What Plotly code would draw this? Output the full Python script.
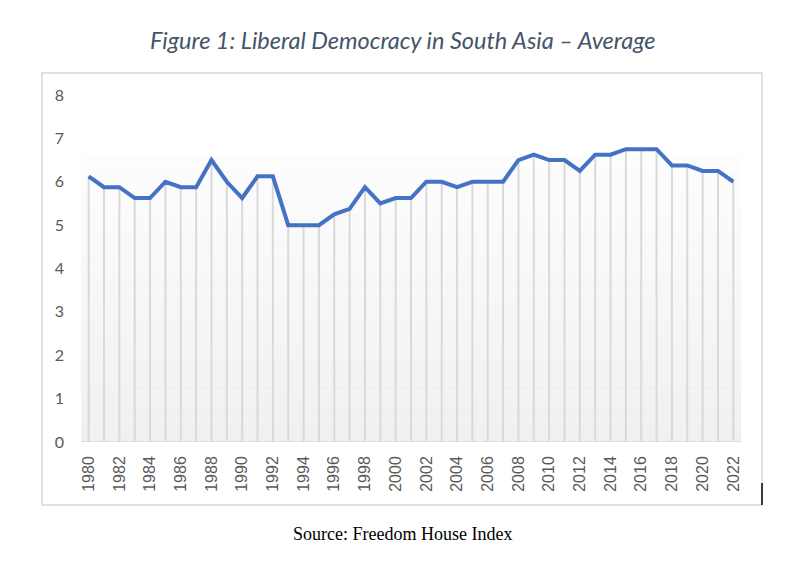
import plotly.graph_objects as go

years = list(range(1980, 2023))
scores = [6.125, 5.875, 5.875, 5.625, 5.625, 6.0, 5.875, 5.875, 6.5, 6.0,
          5.625, 6.125, 6.125, 5.0, 5.0, 5.0, 5.25, 5.375, 5.875, 5.5,
          5.625, 5.625, 6.0, 6.0, 5.875, 6.0, 6.0, 6.0, 6.5, 6.625,
          6.5, 6.5, 6.25, 6.625, 6.625, 6.75, 6.75, 6.75, 6.375, 6.375,
          6.25, 6.25, 6.0]
tick_years = list(range(1980, 2023, 2))
y_ticks = list(range(0, 9))

W, H = 808, 561
L, R, T, B = 81, 741, 95, 442  # plot area pixel bounds

def px(xp):
    return (xp - L) / (R - L)

def py(yp):
    return (B - yp) / (B - T)

fig = go.Figure()

# drop lines
fig.add_trace(go.Scatter(
    x=years, y=scores, mode="markers", marker=dict(size=0.1, color="rgba(0,0,0,0)"),
    error_y=dict(type="data", symmetric=False, array=[0] * len(scores), arrayminus=scores,
                 color="#d9d9d9", thickness=2, width=0),
    hoverinfo="skip", showlegend=False))

fig.add_trace(go.Scatter(
    x=years, y=scores, mode="lines", line=dict(color="#4472c4", width=4),
    showlegend=False))

shapes = []
# gradient background band
n = 40
top_val = 6.62
c_top = (253, 253, 253)
c_bot = (240, 240, 240)
for i in range(n):
    f = i / (n - 1)
    col = tuple(round(c_bot[k] + (c_top[k] - c_bot[k]) * f) for k in range(3))
    shapes.append(dict(type="rect", xref="x", yref="y", x0=1979.5, x1=2022.5,
                       y0=top_val * i / n, y1=top_val * (i + 1) / n,
                       fillcolor="rgb(%d,%d,%d)" % col, line=dict(width=0), layer="below"))
# baseline
shapes.append(dict(type="line", xref="x", yref="y", x0=1979.5, x1=2022.5, y0=0, y1=0,
                   line=dict(color="#d9d9d9", width=1.5), layer="below"))
# chart border
shapes.append(dict(type="rect", xref="paper", yref="paper",
                   x0=px(42), x1=px(762), y0=py(505), y1=py(73),
                   line=dict(color="#d9d9d9", width=1.5), fillcolor="rgba(0,0,0,0)"))
# small dark mark at right edge
shapes.append(dict(type="line", xref="paper", yref="paper",
                   x0=px(762), x1=px(762), y0=py(505), y1=py(483),
                   line=dict(color="#000000", width=1.5)))

fig.update_layout(
    width=W, height=H,
    margin=dict(l=L, r=W - R, t=T, b=H - B),
    paper_bgcolor="white", plot_bgcolor="white",
    shapes=shapes,
    xaxis=dict(range=[1979.5, 2022.5], tickvals=tick_years, ticktext=[str(y) for y in tick_years],
               tickangle=-90, showgrid=False, zeroline=False, showline=False,
               ticks="", ticklabelstandoff=10,
               tickfont=dict(family="Liberation Sans, Arial", size=16, color="#595959")),
    yaxis=dict(range=[0, 8], tickvals=y_ticks, showgrid=False, zeroline=False, showline=False,
               ticks="", ticklabelstandoff=16,
               tickfont=dict(family="Lato, Open Sans", size=16, color="#595959")),
    annotations=[
        dict(text="<i>Figure 1: Liberal Democracy in South Asia – Average</i>",
             xref="paper", yref="paper", x=px(403), y=py(40), showarrow=False,
             xanchor="center", yanchor="middle",
             font=dict(family="Lato, Open Sans", size=23.5, color="#44546a")),
        dict(text="Source: Freedom House Index",
             xref="paper", yref="paper", x=px(402), y=py(534), showarrow=False,
             xanchor="center", yanchor="middle",
             font=dict(family="Liberation Serif, Times New Roman", size=18, color="#000000")),
    ],
)

fig.write_html("out.html")
